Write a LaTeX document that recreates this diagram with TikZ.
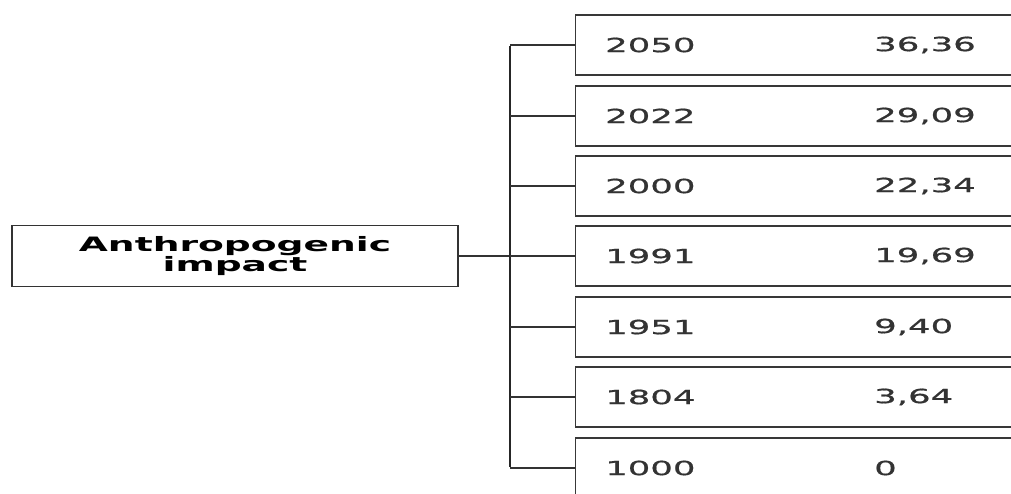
\documentclass[tikz,border=0pt]{standalone}
\usepackage{fontspec}
\newfontfamily\widesans[FakeStretch=1.82,FakeBold=0.8]{DejaVu Sans}
\newfontfamily\widesansbold[FakeStretch=1.9]{DejaVu Sans Bold}
\begin{document}
\begin{tikzpicture}[x=1pt,y=-1pt,
  mainbox/.style={draw=black!80, line width=1.4pt, fill=white, minimum width=446pt,
    minimum height=61pt, inner sep=0pt, align=center,
    font=\widesansbold\fontsize{19.8}{19.5}\selectfont},
  databox/.style={draw=black!78, line width=1.4pt, fill=white, anchor=west,
    minimum width=460pt, minimum height=60pt, inner sep=0pt},
  celltxt/.style={anchor=west, inner sep=0pt, text=black!80,
    font=\widesans\fontsize{19.5}{20}\selectfont},
  branch/.style={draw=black!80, line width=1.4pt},
  spine/.style={draw=black!85, line width=2.6pt}]
\useasboundingbox (0,0) rectangle (1011,493);
\clip (0,0) rectangle (1011,493);

% main label
\node[mainbox] (main) at (235,256) {Anthropogenic\\impact};

% data rows: year and value
\foreach \i/\yy/\yr/\val in {1/45/2050/{36,36}, 2/116/2022/{29,09}, 3/186/2000/{22,34},
    4/256/1991/{19,69}, 5/327/1951/{9,40}, 6/397/1804/{3,64}, 7/468/1000/0}{
  \node[databox] (b\i) at (575,\yy) {};
  \node[celltxt] (y\i) at ([xshift=30pt]b\i.west) {\yr};
  \node[celltxt] (v\i) at ([xshift=299pt]b\i.west) {\val};
}

% bracket connecting the label to every row
\coordinate (j) at (510,256);
\draw[branch] (main.east) -- (j);
\draw[spine] ([yshift=-0.8pt]b1.west -| j) -- ([yshift=0.8pt]b7.west -| j);
\foreach \i in {1,...,7}{
  \draw[branch] (b\i.west -| j) -- (b\i.west);
}
\end{tikzpicture}
\end{document}
